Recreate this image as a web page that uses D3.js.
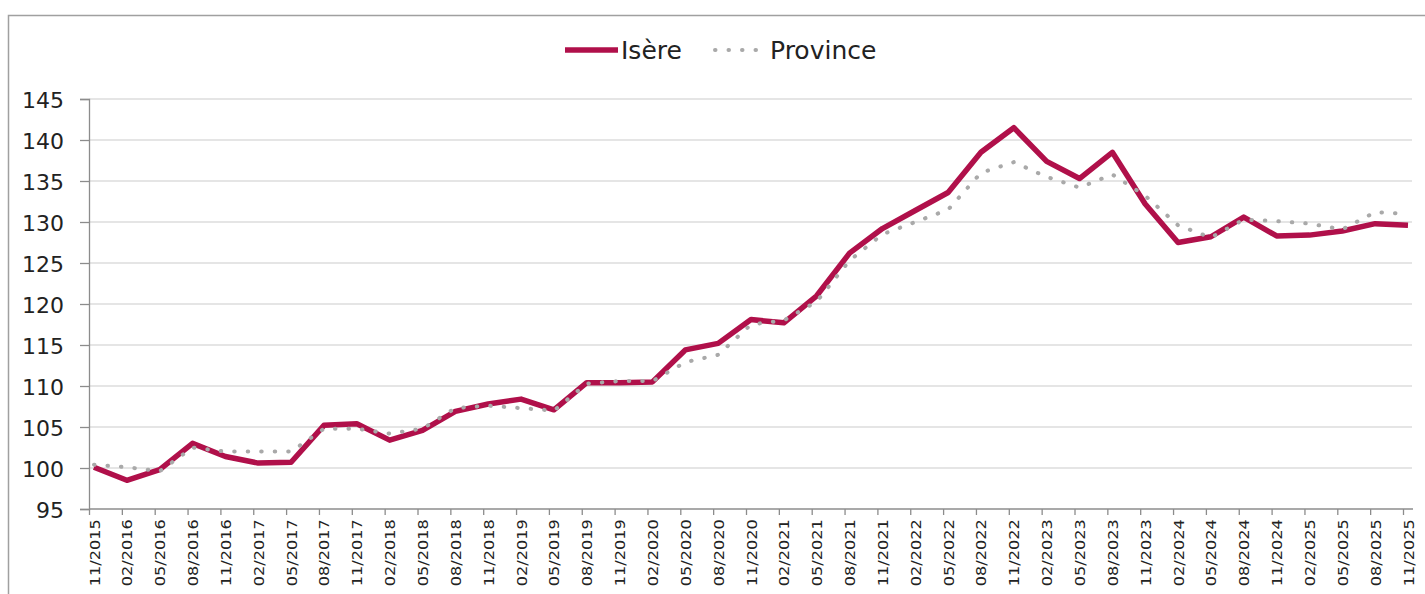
<!DOCTYPE html>
<html>
<head>
<meta charset="utf-8">
<script src="https://cdn.jsdelivr.net/npm/d3@7/dist/d3.min.js"></script>
<style>
  body { margin: 0; background: #fff; }
  svg { display: block; }
</style>
</head>
<body>
<svg id="vimage" width="1425" height="594"></svg>
<script>
//---------------------------------------- data ---------------------------------------
var periods = ["11/2015","02/2016","05/2016","08/2016","11/2016","02/2017","05/2017","08/2017","11/2017",
  "02/2018","05/2018","08/2018","11/2018","02/2019","05/2019","08/2019","11/2019",
  "02/2020","05/2020","08/2020","11/2020","02/2021","05/2021","08/2021","11/2021",
  "02/2022","05/2022","08/2022","11/2022","02/2023","05/2023","08/2023","11/2023",
  "02/2024","05/2024","08/2024","11/2024","02/2025","05/2025","08/2025","11/2025"];

var isere = [100.1, 98.5, 99.8, 103.0, 101.4, 100.6, 100.7, 105.2, 105.4,
  103.4, 104.6, 106.9, 107.8, 108.4, 107.1, 110.4, 110.4,
  110.5, 114.4, 115.2, 118.1, 117.7, 121.0, 126.2, 129.2,
  131.4, 133.6, 138.5, 141.5, 137.4, 135.3, 138.5, 132.2,
  127.5, 128.2, 130.6, 128.3, 128.4, 128.9, 129.8, 129.6];

var province = [100.4, 100.1, 99.6, 102.5, 102.0, 102.0, 102.0, 104.8, 104.8,
  104.2, 104.8, 107.3, 107.6, 107.3, 107.0, 110.3, 110.6,
  110.6, 112.9, 113.8, 117.5, 118.0, 120.3, 125.3, 128.5,
  130.0, 131.5, 136.0, 137.3, 135.5, 134.2, 135.8, 133.2,
  129.6, 128.1, 130.3, 130.1, 129.8, 129.1, 131.2, 131.0];

var yTicks = [95, 100, 105, 110, 115, 120, 125, 130, 135, 140, 145];

var seriesNames = ["Isère", "Province"];

//---------------------------------------- layout ---------------------------------------
var svg = d3.select("#vimage");
var plotLeft = 89, plotRight = 1413, plotTop = 99, plotBottom = 509;
var isereColor = "#b0104a";
var provinceColor = "#a9a9a9";
var font = "'DejaVu Sans', Verdana, sans-serif";

// outer chart border
svg.append("rect")
  .attr("x", 8.5).attr("y", 15.5)
  .attr("width", 1440).attr("height", 620)
  .style("fill", "none")
  .style("stroke", "#a0a0a0")
  .style("stroke-width", 1.5);

var x = d3.scalePoint().domain(periods).range([94, 1408]);
var y = d3.scaleLinear().domain([95, 145]).range([plotBottom, plotTop]);

// gridlines
svg.append("g").selectAll("line")
  .data(yTicks.slice(1))
  .enter().append("line")
  .attr("x1", plotLeft).attr("x2", plotRight - 1)
  .attr("y1", function(d) { return y(d); })
  .attr("y2", function(d) { return y(d); })
  .style("stroke", "#dcdcdc")
  .style("stroke-width", 1.5);

// y axis
var yAxis = svg.append("g")
  .attr("transform", "translate(" + plotLeft + ",0)")
  .call(d3.axisLeft(y).tickValues(yTicks).tickSize(9).tickPadding(16));
yAxis.select(".domain").style("stroke", "#8c8c8c").style("stroke-width", 1.3);
yAxis.selectAll(".tick line").style("stroke", "#8c8c8c").style("stroke-width", 1.3);
yAxis.selectAll("text")
  .attr("dy", "0.4em")
  .style("font-family", font)
  .style("font-size", "22px")
  .style("fill", "#222");

// x axis (ticks sit a touch left of the points, like the source)
var xAxis = svg.append("g")
  .attr("transform", "translate(-5," + plotBottom + ")")
  .call(d3.axisBottom(x).tickSize(6).tickSizeOuter(0));
xAxis.select(".domain").remove();
xAxis.selectAll(".tick line").style("stroke", "#8c8c8c").style("stroke-width", 1.3);
xAxis.selectAll("text")
  .attr("transform", "translate(5,0) rotate(-90) scale(1.15,1)")
  .attr("x", -9).attr("y", 0).attr("dy", "0.36em")
  .style("text-anchor", "end")
  .style("font-family", font)
  .style("font-size", "14px")
  .style("fill", "#222");

svg.append("line")
  .attr("x1", plotLeft).attr("x2", plotRight)
  .attr("y1", plotBottom).attr("y2", plotBottom)
  .style("stroke", "#8c8c8c")
  .style("stroke-width", 1.3);

//---------------------------------------- lines ---------------------------------------
var line = d3.line()
  .x(function(d, i) { return x(periods[i]); })
  .y(function(d) { return y(d); });

svg.append("path")
  .datum(isere)
  .attr("d", line)
  .style("fill", "none")
  .style("stroke", isereColor)
  .style("stroke-width", 5.5)
  .style("stroke-linejoin", "round");

svg.append("path")
  .datum(province)
  .attr("d", line)
  .style("fill", "none")
  .style("stroke", provinceColor)
  .style("stroke-width", 4)
  .style("stroke-linecap", "round")
  .style("stroke-dasharray", "0.5 13");

//---------------------------------------- legend ---------------------------------------
var legend = svg.append("g").attr("transform", "translate(565,50)");

legend.append("line")
  .attr("x1", 0).attr("x2", 53).attr("y1", 0).attr("y2", 0)
  .style("stroke", isereColor).style("stroke-width", 5.5);
legend.append("text")
  .attr("x", 56).attr("y", 0).attr("dy", "0.36em")
  .text(seriesNames[0])
  .style("font-family", font)
  .style("font-size", "25px")
  .style("fill", "#222");

legend.append("line")
  .attr("x1", 150).attr("x2", 198).attr("y1", 0).attr("y2", 0)
  .style("stroke", provinceColor).style("stroke-width", 4)
  .style("stroke-linecap", "round")
  .style("stroke-dasharray", "0.5 13");
legend.append("text")
  .attr("x", 205).attr("y", 0).attr("dy", "0.36em")
  .text(seriesNames[1])
  .style("font-family", font)
  .style("font-size", "25px")
  .style("fill", "#222");
</script>
</body>
</html>
